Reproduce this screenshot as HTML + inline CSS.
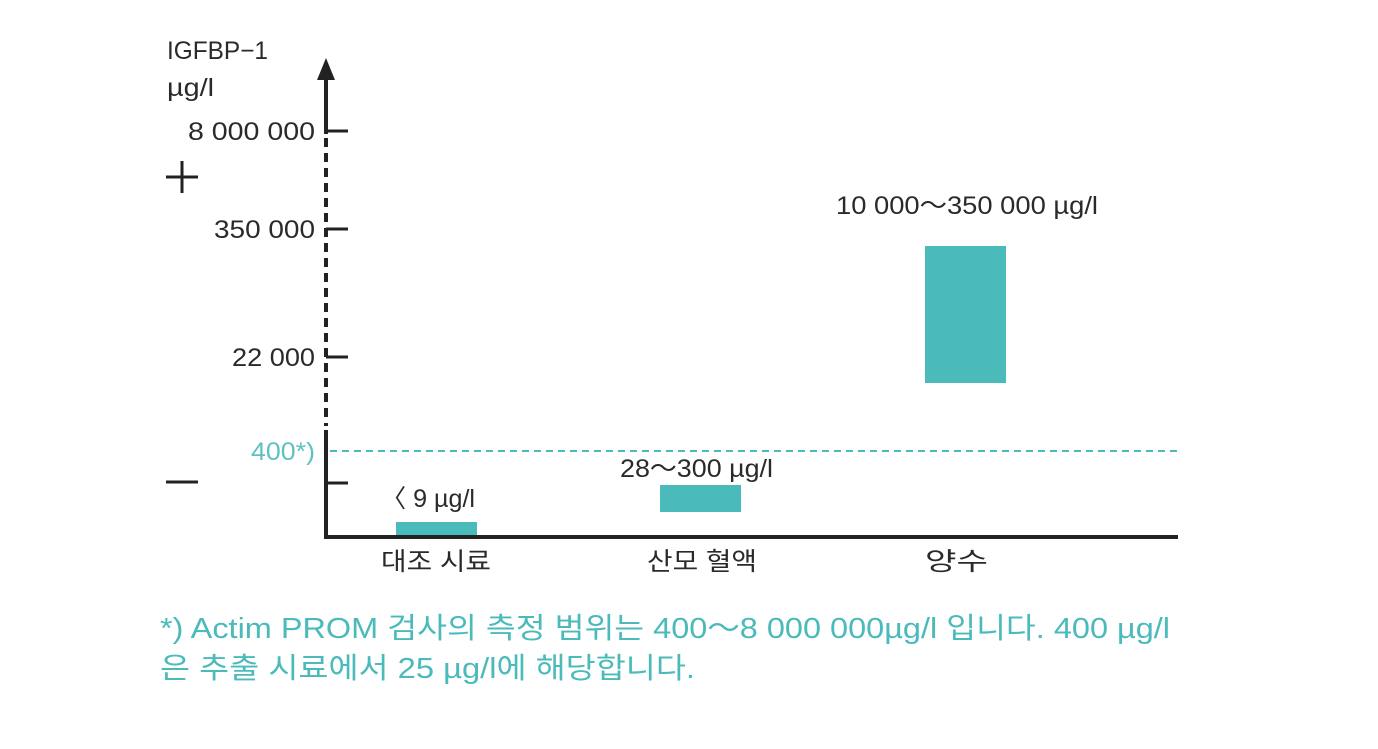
<!DOCTYPE html>
<html><head><meta charset="utf-8"><style>
html,body{margin:0;padding:0;background:#fff;}
svg{display:block;}
text{font-family:"Liberation Sans","Noto Sans CJK KR",sans-serif;}
</style></head><body>
<svg width="1378" height="749" viewBox="0 0 1378 749" xmlns="http://www.w3.org/2000/svg">
<g fill="#2a2a2a" font-size="25">
<text x="167" y="59" textLength="101" lengthAdjust="spacingAndGlyphs">IGFBP−1</text>
<text x="167" y="96" textLength="47" lengthAdjust="spacingAndGlyphs">µg/l</text>
<text x="188" y="140" textLength="127" lengthAdjust="spacingAndGlyphs">8 000 000</text>
<text x="214" y="238" textLength="101" lengthAdjust="spacingAndGlyphs">350 000</text>
<text x="232" y="366" textLength="83" lengthAdjust="spacingAndGlyphs">22 000</text>
<text x="836" y="214" textLength="262" lengthAdjust="spacingAndGlyphs">10 000～350 000 µg/l</text>
<text x="620" y="477" textLength="153" lengthAdjust="spacingAndGlyphs">28～300 µg/l</text>
<text x="381" y="507" textLength="94" lengthAdjust="spacingAndGlyphs">〈 9 µg/l</text>
<text x="381" y="570" font-size="25" textLength="110" lengthAdjust="spacingAndGlyphs">대조 시료</text>
<text x="647" y="570" font-size="25" textLength="110" lengthAdjust="spacingAndGlyphs">산모 혈액</text>
<text x="925" y="570" font-size="25" textLength="63" lengthAdjust="spacingAndGlyphs">양수</text>
</g>
<text x="251" y="460" fill="#5fc1c1" font-size="25" textLength="64" lengthAdjust="spacingAndGlyphs">400*)</text>
<g stroke="#222" stroke-width="3">
<line x1="166" y1="177" x2="198" y2="177"/>
<line x1="182" y1="161" x2="182" y2="193"/>
<line x1="166" y1="482" x2="198" y2="482"/>
</g>
<polygon points="326,58 317,80 335,80" fill="#222"/>
<g stroke="#222" stroke-width="4">
<line x1="326" y1="78" x2="326" y2="134"/>
<line x1="326" y1="138" x2="326" y2="426" stroke-dasharray="9,6"/>
<line x1="326" y1="430" x2="326" y2="537"/>
<line x1="324" y1="537" x2="1178" y2="537"/>
</g>
<g stroke="#222" stroke-width="3">
<line x1="326" y1="131" x2="348" y2="131"/>
<line x1="326" y1="229" x2="348" y2="229"/>
<line x1="326" y1="357" x2="348" y2="357"/>
<line x1="326" y1="483" x2="348" y2="483"/>
</g>
<line x1="330" y1="451" x2="1178" y2="451" stroke="#4bbabb" stroke-width="2" stroke-dasharray="7,5"/>
<g fill="#4bbabb">
<rect x="396" y="522" width="81" height="13"/>
<rect x="660" y="485" width="81" height="27"/>
<rect x="925" y="246" width="81" height="137"/>
</g>
<g fill="#4bbabb" font-size="29">
<text x="160" y="638" textLength="1010" lengthAdjust="spacingAndGlyphs">*) Actim PROM 검사의 측정 범위는 400～8 000 000µg/l 입니다. 400 µg/l</text>
<text x="160" y="678" textLength="535" lengthAdjust="spacingAndGlyphs">은 추출 시료에서 25 µg/l에 해당합니다.</text>
</g>
</svg>
</body></html>
